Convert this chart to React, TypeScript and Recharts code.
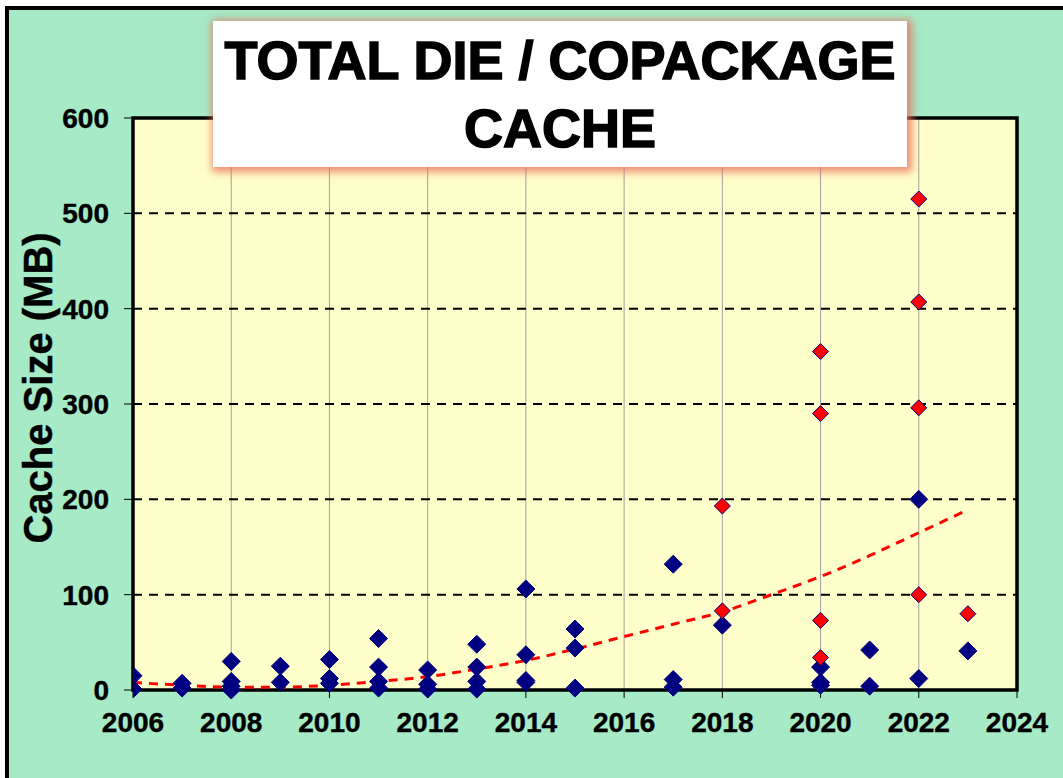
import {
    ComposedChart,
    CartesianGrid,
    XAxis,
    YAxis,
    Scatter,
    Line,
    ReferenceArea,
} from "recharts";

// die / copackage cache points
const blueYears = [
    2006, 2006,
    2007, 2007,
    2008, 2008, 2008, 2008,
    2009, 2009,
    2010, 2010, 2010,
    2011, 2011, 2011, 2011,
    2012, 2012, 2012,
    2013, 2013, 2013, 2013,
    2014, 2014, 2014, 2014,
    2015, 2015, 2015,
    2017, 2017, 2017,
    2018,
    2020, 2020, 2020,
    2021, 2021,
    2022, 2022,
    2023,
];
const blueValues = [
    15, 1,
    7, 2,
    30, 9, 4, 0,
    25, 8,
    32, 12, 7,
    54, 24, 9, 2,
    21, 6, 1,
    48, 24, 9, 1,
    106, 37, 10, 8,
    64, 44, 2,
    132, 11, 3,
    68,
    24, 8, 5,
    42, 4,
    200, 12,
    41,
];

const redYears = [2018, 2018, 2020, 2020, 2020, 2020, 2022, 2022, 2022, 2022, 2023];
const redValues = [193, 83, 355, 290, 73, 34, 515, 407, 296, 100, 80];

// dashed trend line
const trendYears = [2006, 2007, 2008, 2009, 2010, 2011, 2012, 2013, 2014, 2015, 2016, 2017, 2018, 2019, 2020, 2021, 2022, 2023];
const trendValues = [8, 5, 3, 3, 5, 9, 14, 22, 31, 43, 56, 69, 82, 100, 119, 141, 165, 189];

const xTicks = [2006, 2008, 2010, 2012, 2014, 2016, 2018, 2020, 2022, 2024];
const yTicks = [0, 100, 200, 300, 400, 500, 600];

const blueData = blueYears.map((x, i) => ({ x, y: blueValues[i] }));
const redData = redYears.map((x, i) => ({ x, y: redValues[i] }));
const trendData = trendYears.map((x, i) => ({ x, y: trendValues[i] }));

const FONT = "'Liberation Sans', Arial, sans-serif";

function diamond(r: number, fill: string) {
    return (props: any) => {
        const { cx, cy } = props;
        return (
            <path
                d={`M${cx},${cy - r}L${cx + r},${cy}L${cx},${cy + r}L${cx - r},${cy}Z`}
                fill={fill}
                stroke="#000080"
                strokeWidth={1}
            />
        );
    };
}

const tickStyle = {
    fill: "#000",
    fontSize: 28,
    fontWeight: 700,
    fontFamily: FONT,
    stroke: "#000",
    strokeWidth: 0.4,
};

export default function App() {
    return (
        <div
            style={{
                position: "fixed",
                left: 0,
                top: 0,
                width: 1063,
                height: 778,
                overflow: "hidden",
                background: "#fff",
                fontFamily: FONT,
            }}
        >
            <div
                style={{
                    position: "absolute",
                    left: 5,
                    top: 6,
                    width: 1100,
                    height: 820,
                    border: "4px solid #000",
                    background: "#a6eac6",
                }}
            />
            <div style={{ position: "absolute", left: 0, top: 0 }}>
                <ComposedChart
                    width={1063}
                    height={778}
                    margin={{ top: 118, right: 46, bottom: 28, left: 73 }}
                >
                    <CartesianGrid fill="#ffffcc" horizontal={false} stroke="#a0a0a0" strokeWidth={1} />
                    <CartesianGrid vertical={false} stroke="#000" strokeWidth={2} strokeDasharray="9 7" />
                    <XAxis
                        type="number"
                        dataKey="x"
                        domain={[2006, 2024]}
                        ticks={xTicks}
                        allowDataOverflow
                        axisLine={false}
                        tickLine={{ stroke: "#000" }}
                        tickSize={8}
                        tickMargin={14}
                        height={60}
                        tick={tickStyle}
                    />
                    <YAxis
                        type="number"
                        dataKey="y"
                        domain={[0, 600]}
                        ticks={yTicks}
                        axisLine={false}
                        tickLine={{ stroke: "#000" }}
                        tickSize={9}
                        tickMargin={15}
                        width={60}
                        tick={tickStyle}
                    />
                    <ReferenceArea
                        x1={2006}
                        x2={2024}
                        y1={0}
                        y2={600}
                        fill="none"
                        fillOpacity={0}
                        stroke="#000"
                        strokeWidth={3.5}
                        ifOverflow="visible"
                    />
                    <Line
                        data={trendData}
                        dataKey="y"
                        type="monotone"
                        stroke="#ff0000"
                        strokeWidth={3}
                        strokeDasharray="9 7"
                        dot={false}
                        isAnimationActive={false}
                    />
                    <Scatter data={blueData} dataKey="y" shape={diamond(9, "#000080")} isAnimationActive={false} />
                    <Scatter data={redData} dataKey="y" shape={diamond(8, "#ff0000")} isAnimationActive={false} />
                </ComposedChart>
            </div>
            <div
                style={{
                    position: "absolute",
                    left: 20,
                    top: 388,
                    width: 0,
                    height: 0,
                }}
            >
                <div
                    style={{
                        position: "absolute",
                        left: 18,
                        top: 0,
                        transform: "translate(-50%, -50%) rotate(-90deg)",
                        whiteSpace: "nowrap",
                        fontSize: 40,
                        fontWeight: 700,
                        color: "#000",
                        lineHeight: "40px",
                        WebkitTextStroke: "0.5px #000",
                    }}
                >
                    Cache Size (MB)
                </div>
            </div>
            <div
                style={{
                    position: "absolute",
                    left: 213,
                    top: 21,
                    width: 694,
                    height: 146,
                    background: "#fff",
                    boxShadow: "2px 2px 8px 3px rgba(235,110,90,0.8)",
                    textAlign: "center",
                    fontSize: 54,
                    fontWeight: 700,
                    lineHeight: "68px",
                    paddingTop: 5,
                    boxSizing: "border-box",
                    color: "#000",
                    WebkitTextStroke: "1.5px #000",
                    whiteSpace: "nowrap",
                }}
            >
                TOTAL DIE / COPACKAGE
                <br />
                CACHE
            </div>
        </div>
    );
}
